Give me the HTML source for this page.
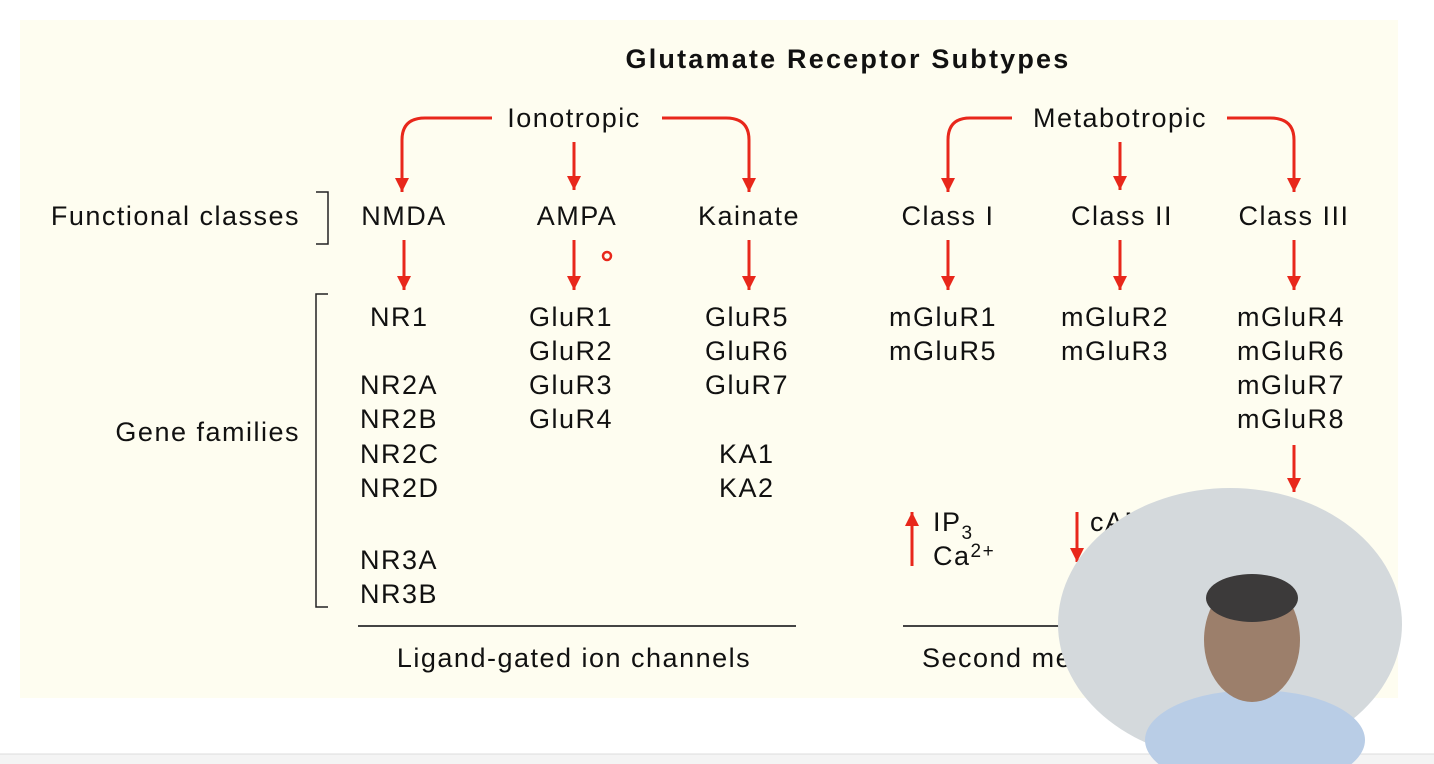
<!DOCTYPE html>
<html><head><meta charset="utf-8"><style>
body{margin:0;width:1434px;height:764px;background:#fff;overflow:hidden}
svg{display:block}
text{font-family:"Liberation Sans",sans-serif;font-size:27px;letter-spacing:1.5px;fill:#111}
</style></head><body>
<svg width="1434" height="764">
<defs>
<marker id="a2" viewBox="0 0 10 10" refX="10" refY="5" markerWidth="16" markerHeight="14" orient="auto" markerUnits="userSpaceOnUse"><path d="M0,0 L10,5 L0,10 Z" fill="#e8271b"/></marker></defs>
<rect x="20" y="20" width="1378" height="678" fill="#fefdf0"/>
<rect x="0" y="754" width="1434" height="10" fill="#f4f4f4"/>
<line x1="0" y1="754" x2="1434" y2="754" stroke="#ddd"/>
<text x="848" y="68" text-anchor="middle" font-weight="bold" style="letter-spacing:2.2px">Glutamate Receptor Subtypes</text>
<text x="574" y="127" text-anchor="middle">Ionotropic</text>
<text x="1120" y="127" text-anchor="middle">Metabotropic</text>
<g stroke="#e8271b" stroke-width="3" fill="none" marker-end="url(#a2)">
<path d="M492,118 H425 Q402,118 402,140 V192"/>
<path d="M662,118 H726 Q749,118 749,140 V192"/>
<path d="M574,142 V190"/>
<path d="M1012,118 H970 Q948,118 948,140 V192"/>
<path d="M1227,118 H1270 Q1294,118 1294,140 V192"/>
<path d="M1120,142 V190"/>
<path d="M404,240 V290"/><path d="M574,240 V290"/><path d="M749,240 V290"/>
<path d="M948,240 V290"/><path d="M1120,240 V290"/><path d="M1294,240 V290"/>
<path d="M1294,445 V492"/>
<path d="M912,566 V512"/><path d="M1077,512 V562"/>
</g>
<g>
<text x="300" y="225" text-anchor="end">Functional classes</text>
<path d="M316,192 H328 V244 H316" stroke="#222" stroke-width="1.5" fill="none"/>
<text x="404" y="225" text-anchor="middle">NMDA</text>
<text x="577" y="225" text-anchor="middle">AMPA</text>
<text x="749" y="225" text-anchor="middle">Kainate</text>
<text x="948" y="225" text-anchor="middle">Class I</text>
<text x="1122" y="225" text-anchor="middle">Class II</text>
<text x="1294" y="225" text-anchor="middle">Class III</text>
</g>
<circle cx="607" cy="256" r="4" fill="none" stroke="#e8271b" stroke-width="2.5"/>
<g>
<text x="300" y="441" text-anchor="end">Gene families</text>
<path d="M328,294 H316 V607 H328" stroke="#222" stroke-width="1.5" fill="none"/>
<text x="370" y="326">NR1</text>
<text x="360" y="394">NR2A</text><text x="360" y="428">NR2B</text><text x="360" y="463">NR2C</text><text x="360" y="497">NR2D</text>
<text x="360" y="569">NR3A</text><text x="360" y="603">NR3B</text>
<text x="529" y="326">GluR1</text><text x="529" y="360">GluR2</text><text x="529" y="394">GluR3</text><text x="529" y="428">GluR4</text>
<text x="705" y="326">GluR5</text><text x="705" y="360">GluR6</text><text x="705" y="394">GluR7</text>
<text x="719" y="463">KA1</text><text x="719" y="497">KA2</text>
<text x="889" y="326">mGluR1</text><text x="889" y="360">mGluR5</text>
<text x="1061" y="326">mGluR2</text><text x="1061" y="360">mGluR3</text>
<text x="1237" y="326">mGluR4</text><text x="1237" y="360">mGluR6</text><text x="1237" y="394">mGluR7</text><text x="1237" y="428">mGluR8</text>
<text x="933" y="531">IP<tspan font-size="19" dy="8">3</tspan></text>
<text x="933" y="565">Ca<tspan font-size="19" dy="-8">2+</tspan></text>
<text x="1090" y="531">cAMP</text>
</g>
<line x1="358" y1="626" x2="796" y2="626" stroke="#444" stroke-width="2"/>
<line x1="903" y1="626" x2="1300" y2="626" stroke="#444" stroke-width="2"/>
<text x="574" y="667" text-anchor="middle">Ligand-gated ion channels</text>
<text x="922" y="667">Second messenger</text>
<g>
<ellipse cx="1230" cy="624" rx="172" ry="136" fill="#d4d9dc"/>
<ellipse cx="1255" cy="740" rx="110" ry="50" fill="#b9cde6"/>
<ellipse cx="1252" cy="640" rx="48" ry="62" fill="#9c7f6b"/>
<ellipse cx="1252" cy="598" rx="46" ry="24" fill="#3c3a3a"/>
</g>
</svg>
</body></html>
